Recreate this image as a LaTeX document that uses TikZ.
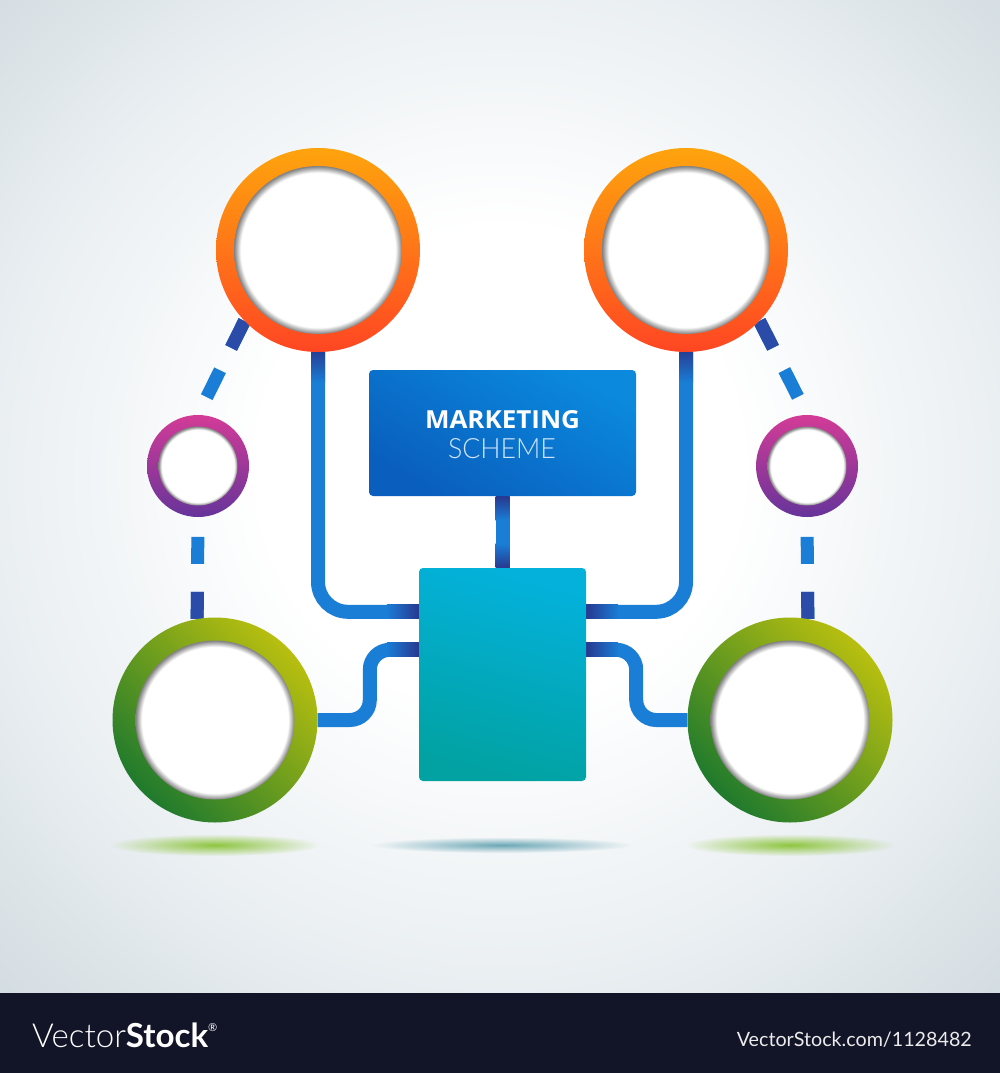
\documentclass[tikz,border=0pt]{standalone}
\usepackage{fontspec}
\newfontfamily\osans{Open Sans}
\newfontfamily\lato{Lato}
\newfontfamily\latolight{Lato Light}
\usetikzlibrary{calc,fadings}
\definecolor{bgedge}{HTML}{D3DCE1}
\definecolor{bgmid}{HTML}{EAEFF2}
\definecolor{bar}{HTML}{121428}
\definecolor{cblue}{HTML}{1A7DD6}
\definecolor{navy}{HTML}{28388F}
\definecolor{dashdark}{HTML}{2A4CA8}
\definecolor{orangeT}{HTML}{FEA40D}
\definecolor{orangeB}{HTML}{FF4623}
\definecolor{magT}{HTML}{D33B97}
\definecolor{magB}{HTML}{66349A}
\definecolor{greenT}{HTML}{B8BF0F}
\definecolor{greenB}{HTML}{1F7A2D}
\definecolor{titleL}{HTML}{0A5EBD}
\definecolor{titleR}{HTML}{0A89DD}
\definecolor{tealT}{HTML}{03B1DB}
\definecolor{tealB}{HTML}{02A2A2}
\definecolor{holegray}{HTML}{808080}
\definecolor{schemecol}{HTML}{CFE4F8}
\definecolor{shgreen}{HTML}{8FC640}
\definecolor{shteal}{HTML}{5D9FAE}
\pgfdeclarelayer{bg}
\pgfdeclarelayer{conn}
\pgfsetlayers{bg,conn,main}
\pgfdeclareradialshading{hole}{\pgfpoint{0bp}{0bp}}{color(0bp)=(white); color(23bp)=(white); color(25bp)=(holegray); color(50bp)=(holegray)}
\pgfdeclareradialshading{bgshade}{\pgfpoint{0bp}{2bp}}{color(0bp)=(white); color(12bp)=(white); color(25bp)=(bgmid); color(36bp)=(bgedge); color(50bp)=(bgedge)}
\tikzfading[name=fadeout, inner color=transparent!0, outer color=transparent!100]
\begin{document}
\begin{tikzpicture}[x=1pt,y=-1pt,
  ring/.style={circle, inner sep=0pt, draw=none},
  conn/.style={line width=14pt, cblue},
  dashconn/.style={line width=13pt, cblue, dash pattern=on 30pt off 25pt},
  box/.style={rectangle, rounded corners=4pt, inner sep=0pt, draw=none},
  txt/.style={inner sep=0pt}
]
\useasboundingbox (0,0) rectangle (1000,1073);

% background
\begin{pgfonlayer}{bg}
\shade[shading=bgshade] (0,0) rectangle (1000,993);
\fill[bar] (0,993) rectangle (1000,1073);
\fill[shgreen, path fading=fadeout] (215,845) ellipse (105pt and 11pt);
\fill[shteal, path fading=fadeout, opacity=0.9] (502,845) ellipse (130pt and 8pt);
\fill[shgreen, path fading=fadeout] (790,845) ellipse (105pt and 11pt);
\end{pgfonlayer}

% rings
\node[ring, minimum size=204pt, top color=orangeT, bottom color=orangeB] (tl) at (318,250) {};
\node[ring, minimum size=204pt, top color=orangeT, bottom color=orangeB] (tr) at (686,250) {};
\node[ring, minimum size=102pt, top color=magT, bottom color=magB] (sl) at (198,466) {};
\node[ring, minimum size=102pt, top color=magT, bottom color=magB] (sr) at (807,466) {};
\node[ring, minimum size=205pt, top color=greenT, bottom color=greenB, shading angle=-45] (gl) at (215,720) {};
\node[ring, minimum size=205pt, top color=greenT, bottom color=greenB, shading angle=-45] (gr) at (790,720) {};

\shade[shading=hole] (tl.center) circle (84pt);
\shade[shading=hole] (tr.center) circle (84pt);
\shade[shading=hole] (sl.center) circle (39.5pt);
\shade[shading=hole] (sr.center) circle (39.5pt);
\shade[shading=hole] (gl.center) circle (79.5pt);
\shade[shading=hole] (gr.center) circle (79.5pt);

% boxes
\node[box, minimum width=267pt, minimum height=126pt, top color=titleR, bottom color=titleL, shading angle=-30] (title) at (502.5,433) {};
\node[box, minimum width=167pt, minimum height=213pt, top color=tealT, bottom color=tealB, shading angle=-15] (teal) at (502.5,674.5) {};

\node[txt, anchor=base, text=white] (mk) at (502.5,428) {\resizebox{155pt}{18pt}{\osans\bfseries MARKETING}};
\node[txt, anchor=base, text=schemecol] (sc) at (502,458) {\resizebox{108pt}{20pt}{\latolight SCHEME}};

% connectors
\begin{pgfonlayer}{conn}
\draw[conn] (title.south) -- (teal.north);
\draw[conn, rounded corners=30pt] (tl.south) |- ([yshift=-44pt]teal.north west);
\draw[conn, rounded corners=30pt] (tr.south) |- ([yshift=-44pt]teal.north east);
\draw[conn, rounded corners=20pt] ([yshift=-82pt]teal.north west) -- ++(-49pt,0pt) |- (gl.east);
\draw[conn, rounded corners=20pt] ([yshift=-82pt]teal.north east) -- ++(50pt,0pt) |- (gr.west);

\shade[top color=navy, bottom color=cblue] ([xshift=-7pt]title.south) rectangle ([xshift=7pt,yshift=-24pt]title.south);
\shade[top color=cblue, bottom color=navy] ([xshift=-7pt,yshift=24pt]teal.north) rectangle ([xshift=7pt]teal.north);
\shade[left color=cblue, right color=navy] ([xshift=-32pt,yshift=-37pt]teal.north west) rectangle ([yshift=-51pt]teal.north west);
\shade[left color=cblue, right color=navy] ([xshift=-32pt,yshift=-75pt]teal.north west) rectangle ([yshift=-89pt]teal.north west);
\shade[left color=navy, right color=cblue] ([yshift=-37pt]teal.north east) rectangle ([xshift=32pt,yshift=-51pt]teal.north east);
\shade[left color=navy, right color=cblue] ([yshift=-75pt]teal.north east) rectangle ([xshift=32pt,yshift=-89pt]teal.north east);
\shade[top color=navy, bottom color=cblue] ([xshift=-7pt,yshift=4pt]tl.south) rectangle ([xshift=7pt,yshift=-30pt]tl.south);
\shade[top color=navy, bottom color=cblue] ([xshift=-7pt,yshift=4pt]tr.south) rectangle ([xshift=7pt,yshift=-30pt]tr.south);

\draw[dashconn] (tl.224) -- (sl.north);
\draw[dashconn, dashdark, dash pattern=on 30pt off 400pt] (tl.224) -- (sl.north);
\draw[dashconn] (tr.316) -- (sr.north);
\draw[dashconn, dashdark, dash pattern=on 30pt off 400pt] (tr.316) -- (sr.north);
\draw[dashconn, dash pattern=on 27pt off 28pt] (gl.100) -- (sl.south);
\draw[dashconn, dashdark, dash pattern=on 27pt off 400pt] (gl.100) -- (sl.south);
\draw[dashconn, dash pattern=on 27pt off 28pt] (gr.80) -- (sr.south);
\draw[dashconn, dashdark, dash pattern=on 27pt off 400pt] (gr.80) -- (sr.south);
\end{pgfonlayer}

% watermark
\node[txt, anchor=base west, text=white] (vs) at (32,1047) {\resizebox{176pt}{!}{{\latolight Vector}{\lato\bfseries Stock}}\raisebox{16pt}{\fontsize{11pt}{11pt}\selectfont\lato ®}};
\node[txt, anchor=base east, text=white!92!black] (url) at (972,1046) {\resizebox{235pt}{!}{\lato VectorStock.com/1128482}};
\end{tikzpicture}
\end{document}
